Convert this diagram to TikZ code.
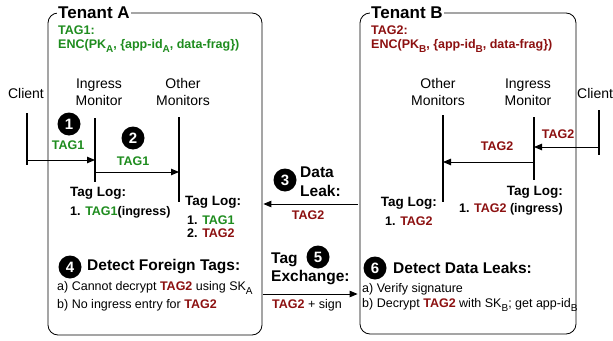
\documentclass[tikz,border=0pt]{standalone}
\usepackage{fontspec}
\setmainfont{Liberation Sans}
\usepackage{xcolor}
\usetikzlibrary{positioning,calc,arrows.meta}

\definecolor{tagred}{RGB}{140,16,16}
\definecolor{taggreen}{RGB}{30,140,30}
\newcommand{\tagone}{\textcolor{taggreen}{\bfseries TAG1}}
\newcommand{\tagtwo}{\textcolor{tagred}{\bfseries TAG2}}
\newcommand{\lowsub}[1]{\raisebox{-3.2pt}{\fontsize{10}{10}\selectfont #1}}

\tikzset{
  tenant/.style={draw, line width=0.8pt, rounded corners=10pt},
  title/.style={anchor=west, fill=white, inner sep=1.5pt, font=\bfseries\fontsize{17}{17}\selectfont},
  num/.style={circle, fill=black, text=white, minimum size=23pt, inner sep=0pt, font=\bfseries\fontsize{15}{15}\selectfont},
  lbl/.style={align=center, inner sep=0pt, font=\fontsize{14}{17}\selectfont},
  monline/.style={line width=1.1pt},
  msg/.style={line width=0.9pt, -{Triangle[length=8pt,width=6.5pt]}},
  taglbl/.style={inner sep=0pt, font=\bfseries\fontsize{12.5}{13}\selectfont},
  logtitle/.style={inner sep=0pt, font=\bfseries\fontsize{13.5}{14}\selectfont},
  head/.style={anchor=west, inner sep=0pt, font=\bfseries\fontsize{15.5}{16}\selectfont},
  item/.style={anchor=west, inner sep=0pt, font=\fontsize{12.5}{13}\selectfont},
}

\begin{document}
\begin{tikzpicture}[x=1pt, y=-1pt]
    \useasboundingbox (0,0) rectangle (613,340);

    % Tenant boxes
    \node[tenant, minimum width=214pt, minimum height=322pt] (boxA) at (155,174) {};
    \node[tenant, minimum width=216pt, minimum height=321pt] (boxB) at (468,173.5) {};
    \node[title] (titleA) at (56.5,13) {Tenant A};
    \node[title] (titleB) at (369.5,13) {Tenant B};

    % Tag definitions
    \node[taglbl, anchor=west, text=taggreen] (defA1) at (58,30) {TAG1:};
    \node[taglbl, anchor=west, text=taggreen] (defA2) at (58,46) {ENC(PK\lowsub{A}, \{app-id\lowsub{A}, data-frag\})};
    \node[taglbl, anchor=west, text=tagred] (defB1) at (371,30) {TAG2:};
    \node[taglbl, anchor=west, text=tagred] (defB2) at (371,46) {ENC(PK\lowsub{B}, \{app-id\lowsub{B}, data-frag\})};

    % Tenant A: client and monitors
    \node[lbl] (clientA) at (26,93) {Client};
    \node[lbl] (ingA) at (99,92) {Ingress\\Monitor};
    \node[lbl] (othA) at (183,92) {Other\\Monitors};
    \coordinate (clA1) at (27,113);  \coordinate (clA2) at (27,165);
    \coordinate (inA1) at (95,118);  \coordinate (inA2) at (95,182);
    \coordinate (otA1) at (179,117); \coordinate (otA2) at (179,202);
    \draw[monline] (clA1) -- (clA2);
    \draw[monline] (inA1) -- (inA2);
    \draw[monline] (otA1) -- (otA2);
    \draw[msg] (clA1 |- 0,160) -- (inA1 |- 0,160);
    \draw[msg] (inA1 |- 0,172) -- (otA1 |- 0,172);
    \node[num] (n1) at (69,124) {1};
    \node[taglbl] (t1) at (68,145) {\tagone};
    \node[num] (n2) at (133,138) {2};
    \node[taglbl] (t2) at (133,161) {\tagone};

    % Tenant A: tag logs
    \node[logtitle, anchor=west] (logA1) at (70,193) {Tag Log:};
    \node[taglbl, anchor=west] (logA1a) at (70,212) {1. \tagone(ingress)};
    \node[logtitle, anchor=west] (logA2) at (185,202) {Tag Log:};
    \node[taglbl, anchor=west] (logA2a) at (187,220) {1. \tagone};
    \node[taglbl, anchor=west] (logA2b) at (187,233) {2. \tagtwo};

    % Tenant A: detection
    \node[num] (n4) at (70,267) {4};
    \node[head] (headA) at (87,267) {Detect Foreign Tags:};
    \node[item] (itA1) at (57,288) {a) Cannot decrypt \tagtwo{} using SK\lowsub{A}};
    \node[item] (itA2) at (57,305) {b) No ingress entry for \tagtwo};

    % Between tenants
    \node[num] (n3) at (285,180) {3};
    \node[head] (leak1) at (300,172) {Data};
    \node[head] (leak2) at (300,191) {Leak:};
    \draw[msg, shorten >=1pt, shorten <=2pt] (boxB.west |- 0,204) -- (boxA.east |- 0,204);
    \node[taglbl] (t3) at (308,215) {\tagtwo};
    \node[head] (exch1) at (271,260) {Tag};
    \node[num] (n5) at (318,257) {5};
    \node[head] (exch2) at (271,278) {Exchange:};
    \draw[msg, shorten >=2pt, shorten <=1pt] (boxA.east |- 0,294) -- (boxB.west |- 0,294);
    \node[item] (t5) at (272,305) {\tagtwo{} + sign};

    % Tenant B: client and monitors
    \node[lbl, anchor=west] (clientB) at (577,93) {Client};
    \node[lbl] (ingB) at (528,92) {Ingress\\Monitor};
    \node[lbl] (othB) at (438,92) {Other\\Monitors};
    \coordinate (clB1) at (599,110); \coordinate (clB2) at (599,155);
    \coordinate (inB1) at (534,117); \coordinate (inB2) at (534,180);
    \coordinate (otB1) at (443,115); \coordinate (otB2) at (443,202);
    \draw[monline] (clB1) -- (clB2);
    \draw[monline] (inB1) -- (inB2);
    \draw[monline] (otB1) -- (otB2);
    \draw[msg] (clB1 |- 0,147) -- (inB1 |- 0,147);
    \draw[msg] (inB1 |- 0,162) -- (otB1 |- 0,162);
    \node[taglbl] (t6) at (558,134) {\tagtwo};
    \node[taglbl] (t7) at (497,146) {\tagtwo};

    % Tenant B: tag logs
    \node[logtitle, anchor=east] (logB1) at (437,203) {Tag Log:};
    \node[taglbl, anchor=west] (logB1a) at (385,221) {1. \tagtwo};
    \node[logtitle, anchor=east] (logB2) at (563,192) {Tag Log:};
    \node[taglbl, anchor=east] (logB2a) at (563,209) {1. \tagtwo{} (ingress)};

    % Tenant B: detection
    \node[num] (n6) at (375,268) {6};
    \node[head] (headB) at (393,268) {Detect Data Leaks:};
    \node[item] (itB1) at (362,289) {a) Verify signature};
    \node[item] (itB2) at (362,305) {b) Decrypt \tagtwo{} with SK\lowsub{B}; get app-id\lowsub{B}};
\end{tikzpicture}
\end{document}
